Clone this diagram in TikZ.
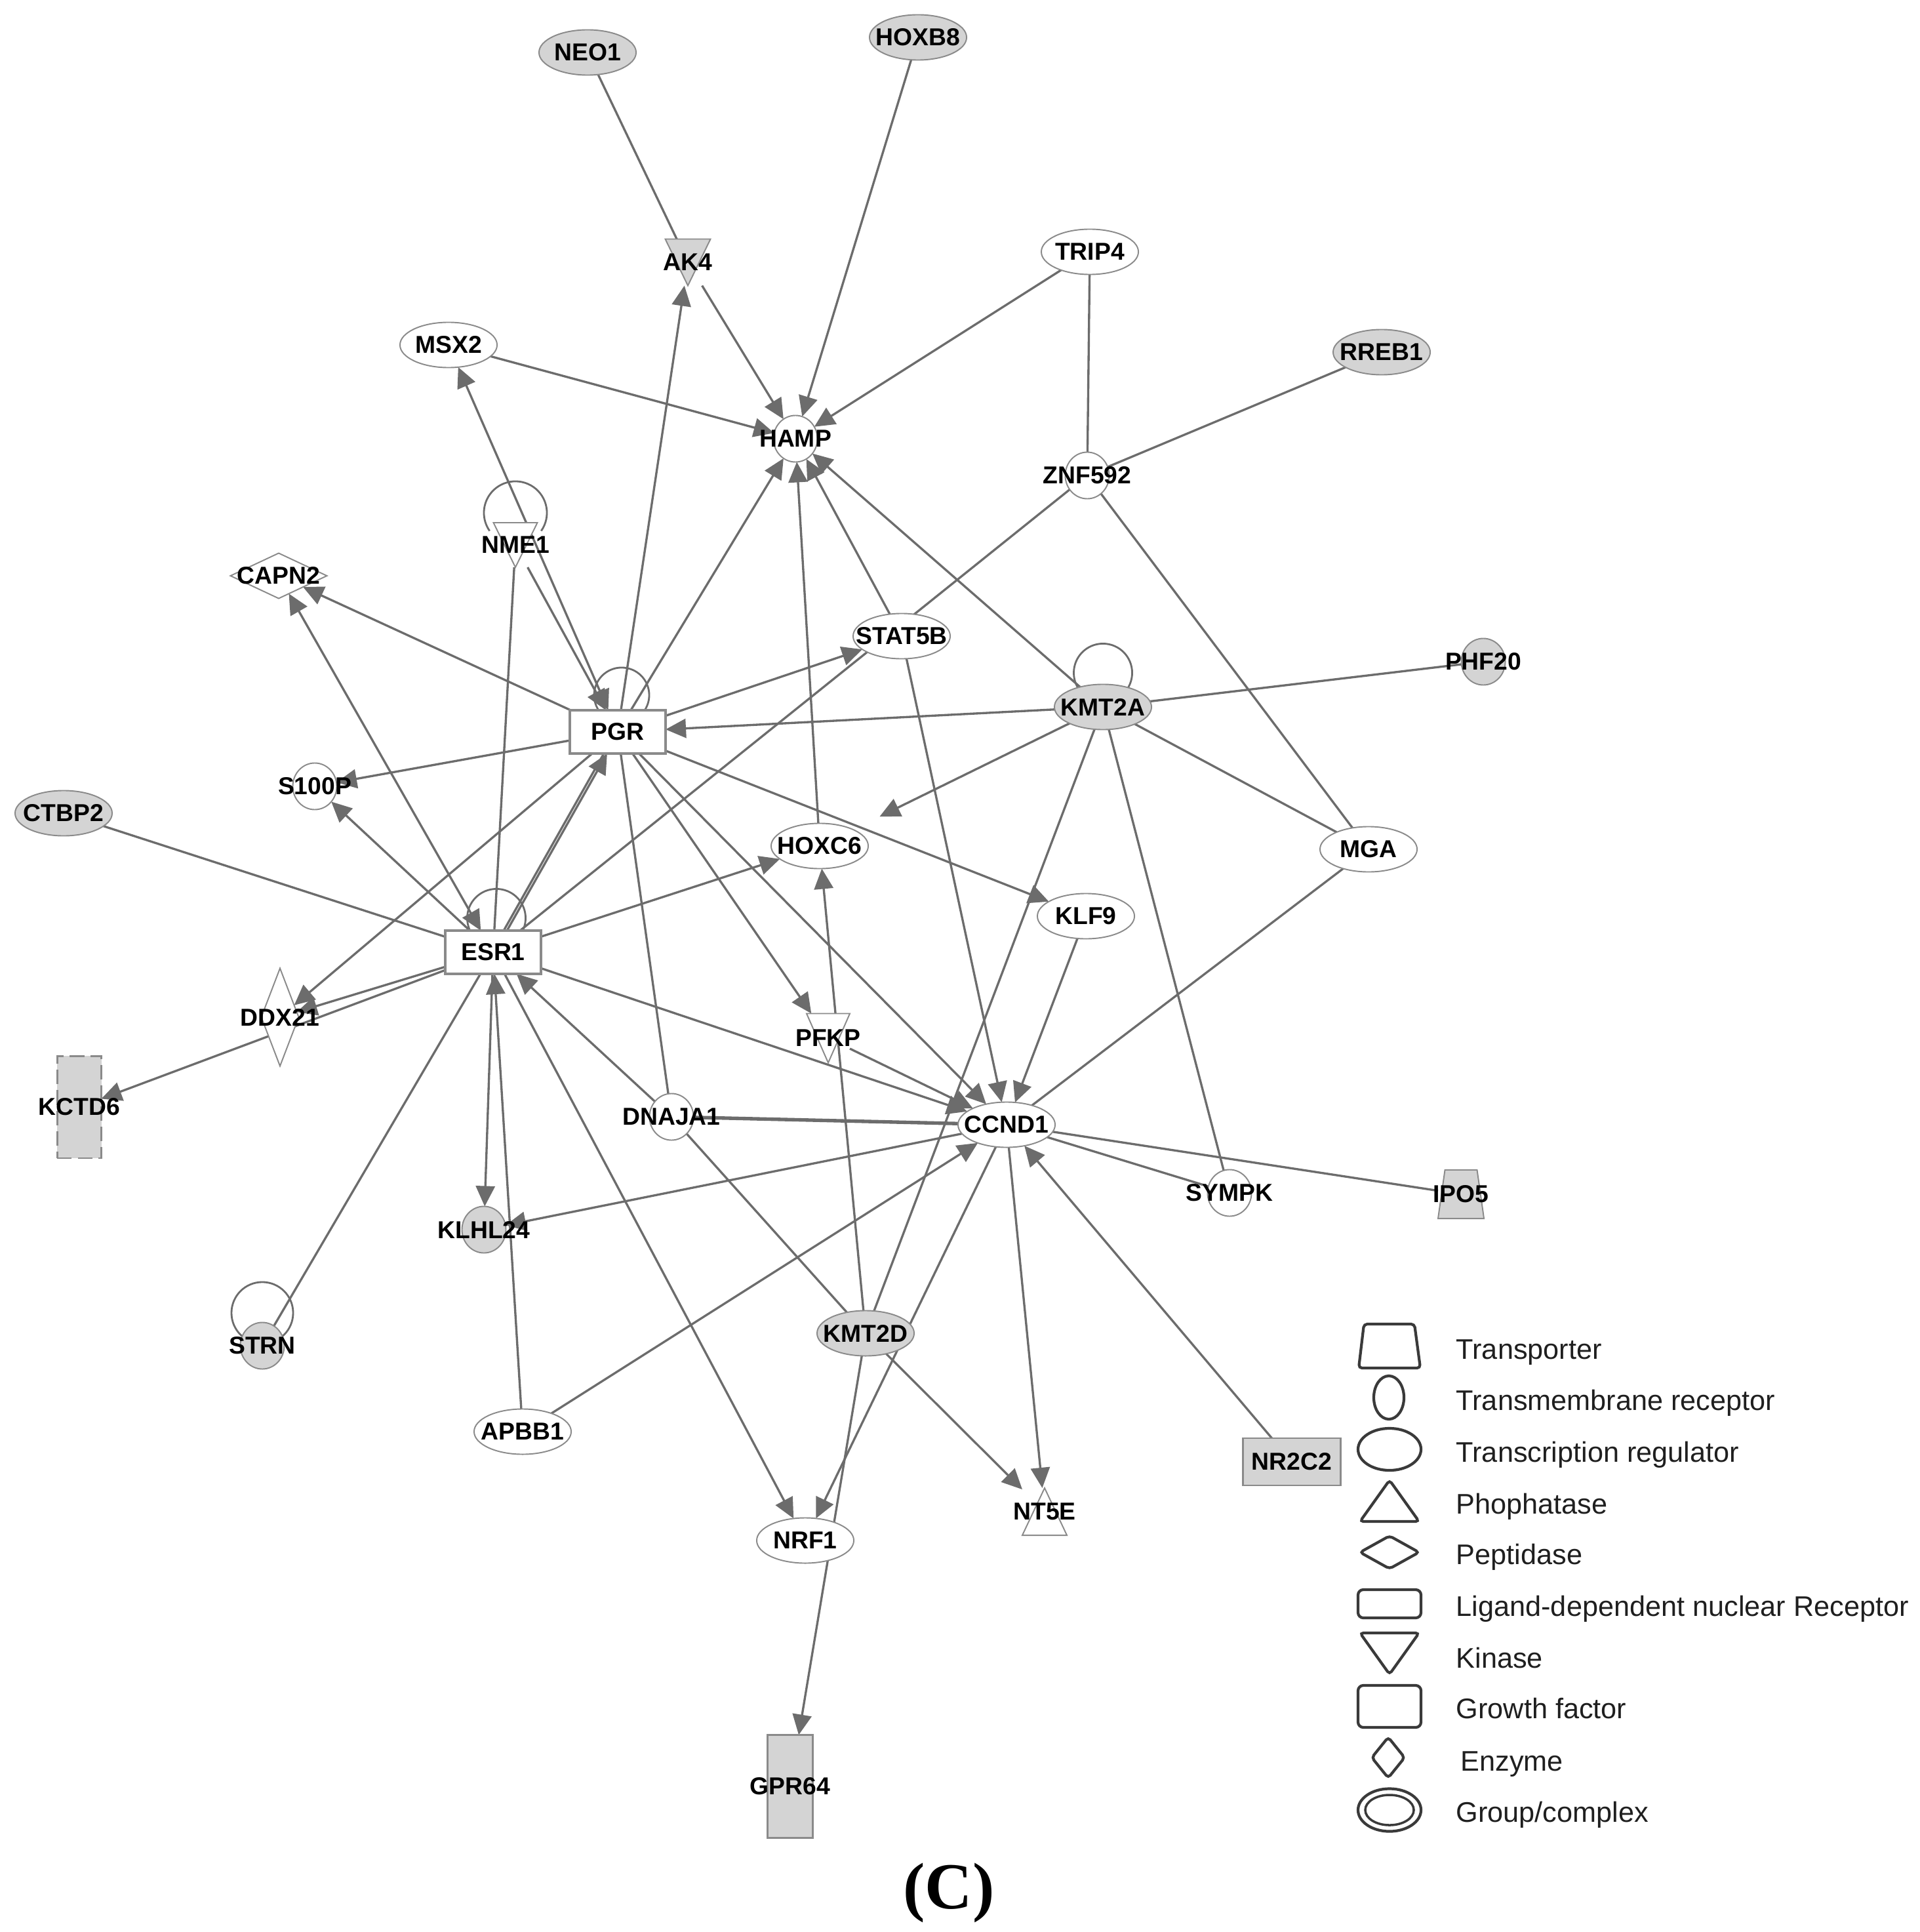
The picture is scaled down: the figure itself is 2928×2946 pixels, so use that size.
\documentclass[tikz,border=0pt]{standalone}
\usepackage{fontspec}
\newfontfamily\lsans{Liberation Sans}
\newfontfamily\lserif{Liberation Serif}
\usetikzlibrary{shapes.geometric,arrows.meta}
\pgfdeclarelayer{edges}
\pgfdeclarelayer{shapes}
\pgfsetlayers{edges,shapes,main}
\definecolor{edgec}{HTML}{6C6C6C}
\definecolor{nborder}{HTML}{8A8A8A}
\definecolor{ngray}{HTML}{D4D4D4}
\definecolor{legc}{HTML}{3A3A3A}
\newcommand{\gl}[1]{\makebox[0pt][c]{#1}}
\begin{document}
\begin{tikzpicture}[x=0.01cm,y=-0.01cm,
  lbl/.style={font=\lsans\bfseries\fontsize{10.6pt}{12pt}\selectfont, text=black, inner sep=0pt, outer sep=0pt},
  tf/.style={lbl, ellipse, draw=nborder, line width=0.55pt, fill=white, minimum width=1.48cm, minimum height=0.69cm},
  tfg/.style={tf, fill=ngray},
  cir/.style={lbl, ellipse, draw=nborder, line width=0.55pt, fill=white, minimum width=0.67cm, minimum height=0.71cm},
  cirg/.style={cir, fill=ngray},
  bigbox/.style={lbl, rectangle, draw=nborder, line width=1.1pt, fill=white, minimum width=1.46cm, minimum height=0.66cm},
  graybox/.style={lbl, rectangle, draw=nborder, line width=0.7pt, fill=ngray},
  trinode/.style={lbl, rectangle},
  trishape/.style={draw=nborder, line width=0.55pt},
  ln/.style={draw=edgec, line width=0.95pt},
  arr/.style={ln, -{Triangle[length=0.31cm,width=0.29cm]}},
  biarr/.style={ln, {Triangle[length=0.31cm,width=0.29cm]}-{Triangle[length=0.31cm,width=0.29cm]}},
  loopc/.style={draw=edgec, line width=0.8pt},
  legs/.style={draw=legc, line width=1.2pt, rounded corners=0.05cm},
  legt/.style={font=\lsans\fontsize{12.3pt}{14pt}\selectfont, text=black!88, inner sep=0pt, anchor=base west}
]
\useasboundingbox (0,0) rectangle (2928,2946);

% ---------------- nodes ----------------
\node[tfg] (neo1) at (896,80) {\gl{NEO1}};
\node[tfg] (hoxb8) at (1400,57) {\gl{HOXB8}};
\node[trinode, minimum width=0.69cm, minimum height=0.71cm] (ak4) at (1049,400) {\gl{AK4}};
\node[tf] (trip4) at (1662,384) {\gl{TRIP4}};
\node[tf] (msx2) at (684,526) {\gl{MSX2}};
\node[tfg] (rreb1) at (2107,537) {\gl{RREB1}};
\node[cir] (hamp) at (1213,669) {\gl{HAMP}};
\node[cir] (znf592) at (1658,725) {\gl{ZNF592}};
\node[trinode, minimum width=0.67cm, minimum height=0.68cm] (nme1) at (786,831) {\gl{NME1}};
\node[lbl, diamond, draw=nborder, line width=0.55pt, fill=white, minimum width=1.47cm, minimum height=0.69cm] (capn2) at (425,878) {\gl{CAPN2}};
\node[tf] (stat5b) at (1375,970) {\gl{STAT5B}};
\node[cirg] (phf20) at (2262,1009) {\gl{PHF20}};
\node[tfg] (kmt2a) at (1682,1078) {\gl{KMT2A}};
\node[bigbox] (pgr) at (942,1116) {\gl{PGR}};
\node[cir] (s100p) at (480,1199) {\gl{S100P}};
\node[tfg] (ctbp2) at (97,1240) {\gl{CTBP2}};
\node[tf] (hoxc6) at (1250,1290) {\gl{HOXC6}};
\node[tf] (mga) at (2087,1295) {\gl{MGA}};
\node[tf] (klf9) at (1656,1397) {\gl{KLF9}};
\node[bigbox] (esr1) at (752,1452) {\gl{ESR1}};
\node[lbl, diamond, draw=nborder, line width=0.55pt, fill=white, minimum width=0.57cm, minimum height=1.49cm] (ddx21) at (427,1551) {\gl{DDX21}};
\node[trinode, minimum width=0.66cm, minimum height=0.75cm] (pfkp) at (1263,1583) {\gl{PFKP}};
\node[graybox, dashed, dash pattern=on 0.22cm off 0.09cm, line width=0.6pt, minimum width=0.67cm, minimum height=1.55cm] (kctd6) at (121,1688) {\gl{KCTD6}};
\node[cir] (dnaja1) at (1024,1703) {\gl{DNAJA1}};
\node[tf] (ccnd1) at (1535,1715) {\gl{CCND1}};
\node[cir] (sympk) at (1875,1819) {\gl{SYMPK}};
\node[trinode, minimum width=0.70cm, minimum height=0.74cm] (ipo5) at (2228,1821) {\gl{IPO5}};
\node[cirg] (klhl24) at (738,1875) {\gl{KLHL24}};
\node[cirg] (strn) at (400,2052) {\gl{STRN}};
\node[tfg] (kmt2d) at (1320,2033) {\gl{KMT2D}};
\node[tf] (apbb1) at (797,2183) {\gl{APBB1}};
\node[graybox, minimum width=1.49cm, minimum height=0.72cm] (nr2c2) at (1970,2229) {\gl{NR2C2}};
\node[trinode, minimum width=0.68cm, minimum height=0.72cm] (nt5e) at (1593,2305) {\gl{NT5E}};
\node[tf] (nrf1) at (1228,2349) {\gl{NRF1}};
\node[graybox, minimum width=0.69cm, minimum height=1.57cm] (gpr64) at (1205,2724) {\gl{GPR64}};

% ------------- triangle / trapezoid shapes -------------
\begin{pgfonlayer}{shapes}
\filldraw[trishape, fill=ngray] (ak4.north west) -- (ak4.north east) -- (ak4.south) -- cycle;
\filldraw[trishape, fill=white] (nme1.north west) -- (nme1.north east) -- (nme1.south) -- cycle;
\filldraw[trishape, fill=white] (pfkp.north west) -- (pfkp.north east) -- (pfkp.south) -- cycle;
\filldraw[trishape, fill=white] (nt5e.south west) -- (nt5e.south east) -- (nt5e.north) -- cycle;
\filldraw[trishape, fill=ngray] (ipo5.south west) -- (ipo5.south east) -- ([xshift=-0.105cm]ipo5.north east) -- ([xshift=0.105cm]ipo5.north west) -- cycle;
\end{pgfonlayer}

% ---------------- edges ----------------
\begin{pgfonlayer}{edges}
% self loops
\draw[loopc] ([yshift=0.49cm]nme1.center) ++(-35:0.48cm) arc[start angle=-35, end angle=215, radius=0.48cm];
\draw[loopc] ([xshift=0.06cm,yshift=0.56cm]pgr.center) circle[radius=0.42cm];
\draw[loopc] ([xshift=0.05cm,yshift=0.52cm]esr1.center) circle[radius=0.445cm];
\draw[loopc] ([yshift=0.52cm]kmt2a.center) circle[radius=0.445cm];
\draw[loopc] ([yshift=0.50cm]strn.center) circle[radius=0.47cm];

% undirected
\draw[ln] (neo1) -- (ak4);
\draw[ln] (trip4) -- (znf592);
\draw[ln] (rreb1) -- (znf592);
\draw[ln] (znf592) -- (esr1);
\draw[ln] (znf592) -- (mga);
\draw[ln] (kmt2a) -- (phf20);
\draw[ln] (kmt2a) -- (mga);
\draw[ln] (kmt2a) -- (sympk);
\draw[ln] (kmt2a) -- (kmt2d);
\draw[ln] (ctbp2) -- (esr1);
\draw[ln] (nme1) -- (esr1);
\draw[ln] (strn) -- (esr1);
\draw[ln] (pgr) -- (dnaja1);
\draw[ln, transform canvas={yshift=0.01cm}] (dnaja1) -- (ccnd1);
\draw[ln, transform canvas={yshift=-0.01cm}] (dnaja1) -- (ccnd1);
\draw[ln] (dnaja1) -- (kmt2d);
\draw[ln] (mga) -- (ccnd1);
\draw[ln] (ccnd1) -- (sympk);
\draw[ln] (ccnd1) -- (ipo5);

% directed
\draw[arr] (ak4) -- (hamp);
\draw[arr] (hoxb8) -- (hamp);
\draw[arr] (trip4) -- (hamp);
\draw[arr] (msx2) -- (hamp);
\draw[arr] (kmt2a) -- (hamp);
\draw[arr] (stat5b) -- (hamp);
\draw[arr] (hoxc6) -- (hamp);
\draw[arr] (pgr) -- (hamp);
\draw[arr] (pgr) -- (ak4);
\draw[biarr] (pgr) -- (msx2);
\draw[arr] (nme1) -- (pgr);
\draw[arr] (pgr) -- (capn2);
\draw[biarr] (esr1) -- (capn2);
\draw[arr] (pgr) -- (s100p);
\draw[arr] (esr1) -- (s100p);
\draw[arr] (pgr) -- (ddx21);
\draw[arr] (esr1) -- (ddx21);
\draw[arr] (esr1) -- (kctd6);
\draw[arr, transform canvas={xshift=0.025cm}] (esr1) -- (pgr);
\draw[ln, transform canvas={xshift=-0.025cm}] (esr1) -- (pgr);
\draw[arr] (esr1) -- (hoxc6);
\draw[arr] (esr1) -- (ccnd1);
\draw[arr] (esr1) -- (nrf1);
\draw[arr] (esr1) -- (klhl24);
\draw[arr] (apbb1) -- (esr1);
\draw[arr] (dnaja1) -- (esr1);
\draw[arr] (pgr) -- (stat5b);
\draw[arr] (kmt2a) -- (pgr);
\draw[arr, shorten >=0.45cm] (kmt2a) -- (hoxc6);
\draw[arr] (kmt2d) -- (hoxc6);
\draw[arr] (pgr) -- (pfkp);
\draw[arr] (pgr) -- (klf9);
\draw[arr] (pgr) -- (ccnd1);
\draw[arr] (stat5b) -- (ccnd1);
\draw[arr] (klf9) -- (ccnd1);
\draw[arr] (pfkp) -- (ccnd1);
\draw[arr] (nr2c2) -- (ccnd1);
\draw[arr] (apbb1) -- (ccnd1);
\draw[arr] (ccnd1) -- (klhl24);
\draw[arr] (ccnd1) -- (nrf1);
\draw[arr] (ccnd1) -- (nt5e);
\draw[arr] (kmt2d) -- (nt5e);
\draw[arr] (kmt2d) -- (gpr64);
\end{pgfonlayer}

% ---------------- legend ----------------
\draw[legs] (2072,2086) -- (2080,2019) -- (2157,2019) -- (2166,2086) -- cycle;
\draw[draw=legc, line width=1.2pt] (2118,2131) ellipse[x radius=0.23cm, y radius=0.33cm];
\draw[draw=legc, line width=1.2pt] (2119,2210) ellipse[x radius=0.48cm, y radius=0.32cm];
\draw[legs] (2119,2257) -- (2164,2320) -- (2074,2320) -- cycle;
\draw[legs] (2074,2367) -- (2119,2342) -- (2164,2367) -- (2119,2392) -- cycle;
\draw[legs, rounded corners=0.08cm] (2071,2424) rectangle (2167,2467);
\draw[legs] (2074,2490) -- (2164,2490) -- (2119,2553) -- cycle;
\draw[legs, rounded corners=0.08cm] (2071,2570) rectangle (2167,2634);
\draw[legs] (2092,2680) -- (2117,2649) -- (2142,2680) -- (2117,2711) -- cycle;
\draw[draw=legc, line width=1.2pt] (2119,2760) ellipse[x radius=0.48cm, y radius=0.325cm];
\draw[draw=legc, line width=1pt] (2119,2760) ellipse[x radius=0.37cm, y radius=0.23cm];

\node[legt] (lg1) at (2220,2072) {Transporter};
\node[legt] (lg2) at (2220,2150) {Transmembrane receptor};
\node[legt] (lg3) at (2220,2229) {Transcription regulator};
\node[legt] (lg4) at (2220,2308) {Phophatase};
\node[legt] (lg5) at (2220,2385) {Peptidase};
\node[legt] (lg6) at (2220,2464) {Ligand-dependent nuclear Receptor};
\node[legt] (lg7) at (2220,2543) {Kinase};
\node[legt] (lg8) at (2220,2620) {Growth factor};
\node[legt] (lg9) at (2227,2700) {Enzyme};
\node[legt] (lg10) at (2220,2778) {Group/complex};

\node[font=\lserif\bfseries\fontsize{28.5pt}{30pt}\selectfont, inner sep=0pt, anchor=base] (cap) at (1447,2910) {(C)};
\end{tikzpicture}
\end{document}
